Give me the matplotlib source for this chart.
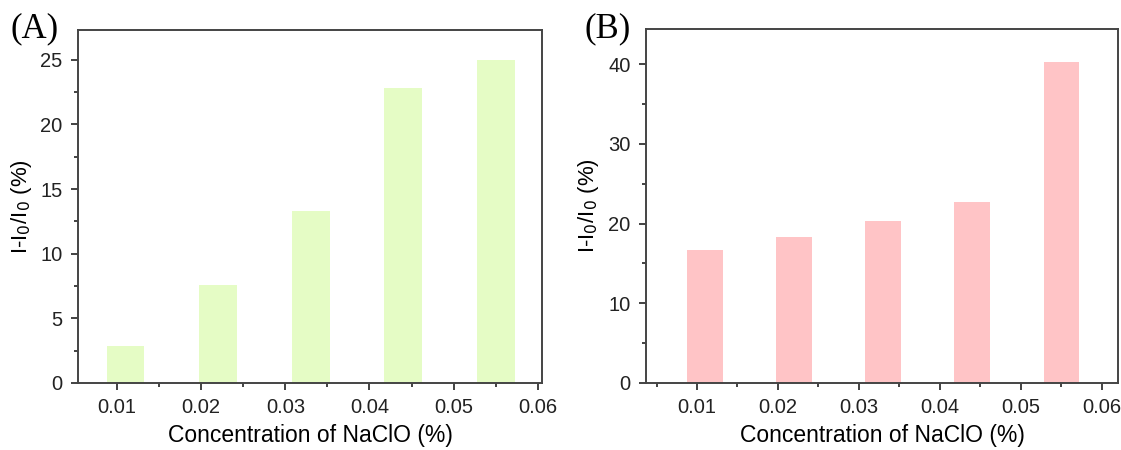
import matplotlib
matplotlib.use("Agg")
import matplotlib.pyplot as plt
from matplotlib.ticker import MultipleLocator

# NaClO concentration (%) and relative intensity change (%)
conc = [0.011, 0.022, 0.033, 0.044, 0.055]
resp_a = [2.9, 7.6, 13.3, 22.8, 25.0]
resp_b = [16.7, 18.3, 20.3, 22.7, 40.2]
xticks = [0.01, 0.02, 0.03, 0.04, 0.05, 0.06]

plt.rcParams['font.family'] = ['Liberation Sans', 'DejaVu Sans']

fig = plt.figure(figsize=(11.21, 4.5), dpi=100)
ax_a = fig.add_axes([78 / 1121, 1 - 383 / 450, 464 / 1121, 353 / 450])
ax_b = fig.add_axes([646 / 1121, 1 - 383 / 450, 472 / 1121, 354 / 450])


def style(ax, ylim, ymajor, xlim):
    ax.set_xlim(*xlim)
    ax.set_ylim(*ylim)
    ax.set_xticks(xticks)
    ax.set_xticklabels(['%.2f' % t for t in xticks])
    ax.xaxis.set_minor_locator(MultipleLocator(0.005))
    ax.yaxis.set_major_locator(MultipleLocator(ymajor))
    ax.yaxis.set_minor_locator(MultipleLocator(ymajor / 2))
    ax.tick_params(which='both', direction='out', top=False, right=False,
                   labelsize=14.5, colors='#222222', width=1.2)
    ax.tick_params(which='major', length=5, pad=6)
    ax.tick_params(which='minor', length=3)
    for s in ax.spines.values():
        s.set_linewidth(1.4)
        s.set_color('#444444')
    ax.set_xlabel('Concentration of NaClO (%)', fontsize=16.5, labelpad=5)
    ax.set_ylabel('I-I$_0$/I$_0$ (%)', fontsize=16, labelpad=5)


ax_a.bar(conc, resp_a, width=0.0045, color='#e5fcc5', zorder=1)
style(ax_a, (0, 27.3), 5, (0.00536, 0.0605))
ax_b.bar(conc, resp_b, width=0.0044, color='#ffc4c6', zorder=1)
style(ax_b, (0, 44.4), 10, (0.0037, 0.062))

fig.text(11 / 1121, 1 - 29 / 450, '(A)', fontsize=25, family='Liberation Serif',
         va='center', ha='left')
fig.text(584 / 1121, 1 - 29 / 450, '(B)', fontsize=25, family='Liberation Serif',
         va='center', ha='left')

fig.savefig('out.png', dpi=100)
